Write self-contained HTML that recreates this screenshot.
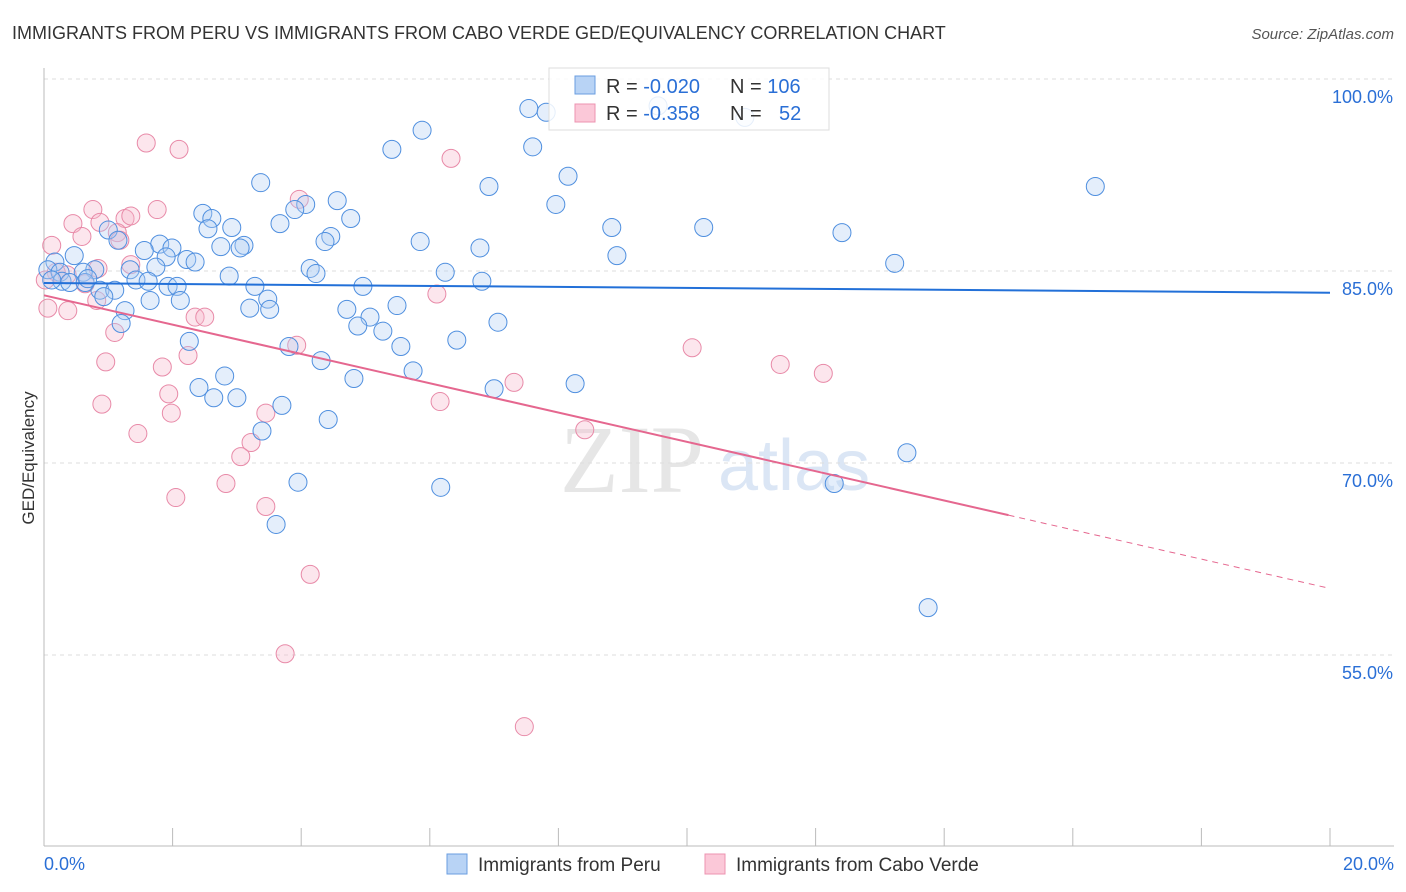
<!DOCTYPE html>
<html><head><meta charset="utf-8"><style>
body{margin:0;background:#fff;font-family:"Liberation Sans",sans-serif}
#c{position:absolute;left:0;top:0}
</style></head><body>
<svg id="c" width="1406" height="892">
<text x="12" y="39" font-size="18" fill="#333">IMMIGRANTS FROM PERU VS IMMIGRANTS FROM CABO VERDE GED/EQUIVALENCY CORRELATION CHART</text>
<text x="1394" y="39" font-size="15" fill="#555" text-anchor="end" font-style="italic">Source: ZipAtlas.com</text>
<text transform="translate(34,458) rotate(-90)" font-size="17" fill="#333" text-anchor="middle">GED/Equivalency</text>
<text x="560" y="492" font-size="96" fill="#e6e6e6" font-family="Liberation Serif,serif">ZIP</text>
<text x="718" y="490" font-size="72" fill="#dbe6f5">atlas</text>
<g id="grid"></g><g id="axes"></g><g id="pts"></g><g id="trend"></g>
<g>
<rect x="549" y="68" width="280" height="62" fill="#fff" fill-opacity="0.85" stroke="#ddd"/>
<rect x="575" y="76" width="20" height="18" fill="#b8d3f5" stroke="#6a9ee0"/>
<rect x="575" y="104" width="20" height="18" fill="#fbc8d8" stroke="#ec93b0"/>
<text x="606" y="93" font-size="20" fill="#333">R = <tspan fill="#2a6fd6">-0.020</tspan><tspan x="730">N = </tspan><tspan fill="#2a6fd6">106</tspan></text>
<text x="606" y="120" font-size="20" fill="#333">R = <tspan fill="#2a6fd6"> -0.358</tspan><tspan x="730">N = </tspan><tspan fill="#2a6fd6" x="779">52</tspan></text>
</g>
<g>
<rect x="447" y="854" width="20" height="20" fill="#b8d3f5" stroke="#6a9ee0"/>
<text x="478" y="871" font-size="19" fill="#333">Immigrants from Peru</text>
<rect x="705" y="854" width="20" height="20" fill="#fbc8d8" stroke="#ec93b0"/>
<text x="736" y="871" font-size="19" fill="#333">Immigrants from Cabo Verde</text>
</g>
</svg>
<script>
const peruX=[7.54,7.81,9.55,10.90,5.88,5.41,7.60,3.37,6.92,8.15,16.35,4.56,4.07,3.90,7.96,4.77,2.47,2.61,2.92,2.55,3.67,8.83,10.26,12.41,5.85,4.46,4.37,6.78,3.11,2.75,3.05,1.80,1.99,1.56,1.00,1.15,8.91,13.23,1.90,1.74,2.22,2.35,0.47,0.17,0.06,0.25,0.79,0.61,1.34,4.14,4.23,6.24,2.88,6.81,1.43,1.62,1.93,2.07,3.28,4.96,0.87,1.10,0.93,1.65,2.12,3.48,5.49,3.20,3.51,4.71,1.26,5.07,4.88,5.27,7.06,1.20,6.42,2.26,3.81,5.55,4.31,5.74,4.82,8.26,7.00,2.81,2.41,2.64,3.00,3.70,4.42,3.39,13.42,3.95,6.17,12.29,3.61,13.75,0.28,0.40,0.64,0.12,0.68];
const peruY=[97.7,97.4,97.9,97.0,96.0,94.5,94.7,91.9,91.6,92.4,91.6,90.5,90.2,89.8,90.2,89.1,89.5,89.1,88.4,88.3,88.7,88.4,88.4,88.0,87.3,87.7,87.3,86.8,87.0,86.9,86.8,87.1,86.8,86.6,88.2,87.4,86.2,85.6,86.1,85.3,85.9,85.7,86.2,85.7,85.1,84.9,85.1,84.9,85.1,85.2,84.8,84.9,84.6,84.2,84.3,84.2,83.8,83.8,83.8,83.8,83.5,83.5,83.0,82.7,82.7,82.8,82.3,82.1,82.0,82.0,81.9,81.4,80.7,80.3,81.0,80.9,79.6,79.5,79.1,79.1,78.0,77.2,76.6,76.2,75.8,76.8,75.9,75.1,75.1,74.5,73.4,72.5,70.8,68.5,68.1,68.4,65.2,58.7,84.2,84.1,84.1,84.3,84.4];
const caboX=[1.59,2.10,6.33,3.97,0.45,0.76,1.76,1.26,1.35,0.12,0.59,1.14,1.18,0.87,1.35,0.84,0.36,0.19,0.02,0.64,0.82,0.37,0.06,6.11,2.35,2.50,1.10,3.93,2.24,10.08,11.45,12.12,0.96,1.84,7.31,1.94,0.90,6.16,1.98,3.45,1.46,8.41,3.22,3.06,2.83,2.05,3.45,4.14,3.75,7.47];
const caboY=[95.0,94.5,93.8,90.6,88.7,89.8,89.8,89.1,89.3,87.0,87.7,88.0,87.4,88.8,85.5,85.2,84.7,84.9,84.3,84.0,82.7,81.9,82.1,83.2,81.4,81.4,80.2,79.2,78.4,79.0,77.7,77.0,77.9,77.5,76.3,75.4,74.6,74.8,73.9,73.9,72.3,72.6,71.6,70.5,68.4,67.3,66.6,61.3,55.1,49.4];
const yTicks=[100,85,70,55];
const xTickVals=[0,2,4,6,8,10,12,14,16,18,20];
const trendPeru=[84.06,83.3];
const trendCabo=[83.1,60.2];
const caboSolidEnd=15.0;
const NS="http://www.w3.org/2000/svg";
const X=v=>44+v/20*1286, Y=v=>79+(100-v)*12.8;
function mk(tag,attrs,parent){const e=document.createElementNS(NS,tag);for(const k in attrs)e.setAttribute(k,attrs[k]);parent.appendChild(e);return e;}
const grid=document.getElementById('grid'),axes=document.getElementById('axes'),pts=document.getElementById('pts'),tr=document.getElementById('trend');
yTicks.forEach(t=>{
 const l=mk('line',{x1:44,x2:1394,y1:Y(t),y2:Y(t),stroke:'#ddd','stroke-dasharray':'4,4'},grid);
 
 
 const tx=mk('text',{x:1393,y:Y(t)+24,'font-size':18,fill:'#2a6fd6','text-anchor':'end'},axes);
 tx.textContent=t.toFixed(1)+'%';
 
 
});
const ax=mk('line',{x1:44,x2:44,y1:68,y2:846,stroke:'#bbb'},axes);


const bx=mk('line',{x1:44,x2:1394,y1:846,y2:846,stroke:'#bbb'},axes);


xTickVals.forEach(t=>{
 const l=mk('line',{x1:X(t),x2:X(t),y1:828,y2:846,stroke:'#bbb'},axes);
 
 
});
[[0,'start'],[20,'end']].forEach(([t,a])=>{
 const tx=mk('text',{x:t==0?44:1394,y:870,'font-size':18,fill:'#2a6fd6','text-anchor':a},axes);
 tx.textContent=t.toFixed(1)+'%';
 
 
});
function dots(xs,ys,fill,stroke,name){
 xs.forEach((v,i)=>{
  const c=mk('circle',{cx:X(v),cy:Y(ys[i]),r:9,fill:fill,'fill-opacity':0.35,stroke:stroke,'stroke-width':1},pts);
  
  
 });
}
dots(caboX,caboY,'#f7b6cb','#e88aa8','cabo-verde-point');
dots(peruX,peruY,'#b3cff3','#4f8fdf','peru-point');
const l1=mk('line',{x1:X(0),y1:Y(trendPeru[0]),x2:X(20),y2:Y(trendPeru[1]),stroke:'#2270d8','stroke-width':2},tr);


const cy=x=>trendCabo[0]+(trendCabo[1]-trendCabo[0])*x/20;
const l2=mk('line',{x1:X(0),y1:Y(cy(0)),x2:X(caboSolidEnd),y2:Y(cy(caboSolidEnd)),stroke:'#e5678f','stroke-width':2},tr);


const l3=mk('line',{x1:X(caboSolidEnd),y1:Y(cy(caboSolidEnd)),x2:X(20),y2:Y(cy(20)),stroke:'#e5678f','stroke-width':1,'stroke-dasharray':'6,5'},tr);


</script>
</body></html>
